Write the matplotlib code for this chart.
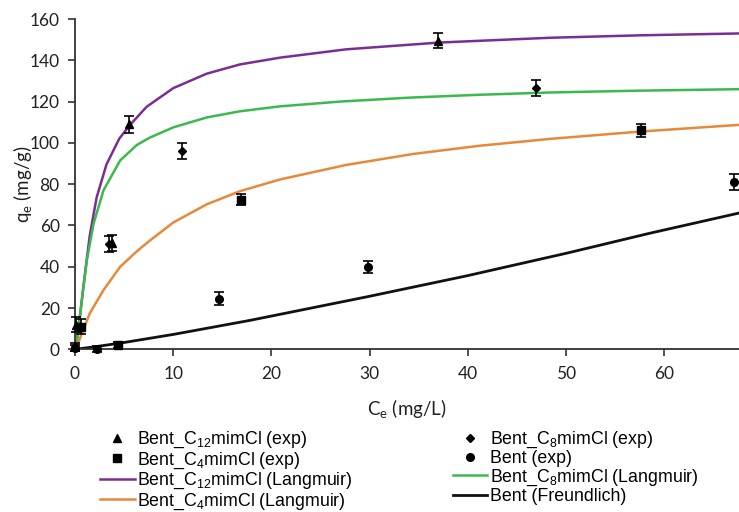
import matplotlib
matplotlib.use("Agg")
import matplotlib.pyplot as plt
from matplotlib.lines import Line2D

c12_x = [0.1, 3.8, 5.5, 37.0]
c12_y = [12.0, 51.5, 109.0, 149.5]
c12_err = [3.5, 4.0, 4.0, 3.7]

c8_x = [0.05, 3.5, 10.9, 46.9]
c8_y = [1.0, 51.0, 96.0, 126.5]
c8_err = [2.0, 4.0, 3.9, 3.9]

c4_x = [0.6, 4.4, 16.9, 57.6]
c4_y = [11.0, 2.0, 72.5, 106.0]
c4_err = [3.5, 1.5, 2.8, 3.2]

bent_x = [0.0, 2.2, 14.7, 29.8, 67.1]
bent_y = [0.5, 0.0, 24.5, 40.0, 81.0]
bent_err = [1.5, 1.5, 3.2, 3.0, 4.0]

# ---- model curves ----
c12L_x = [0.0, 0.25, 0.5, 1.0, 1.5, 2.2, 3.2, 4.5, 5.6, 7.3, 10.0, 13.4, 16.8, 20.9, 27.6, 37.1, 48.3, 57.6, 67.6]
c12L_y = [0.0, 6.0, 16.0, 36.0, 55.0, 73.5, 89.5, 102.0, 108.7, 117.5, 126.5, 133.5, 138.0, 141.3, 145.3, 148.6, 150.9, 152.1, 153.0]

c8L_x = [0.0, 0.3, 0.7, 1.2, 1.9, 2.9, 4.6, 6.3, 7.6, 10.0, 13.4, 16.8, 20.9, 27.0, 34.0, 41.2, 48.3, 57.6, 67.6]
c8L_y = [0.0, 7.0, 24.0, 43.0, 61.0, 77.0, 91.5, 99.0, 102.5, 107.5, 112.3, 115.3, 117.7, 120.0, 121.9, 123.3, 124.4, 125.3, 126.0]

c4L_x = [0.0, 0.2, 1.5, 2.9, 4.6, 6.3, 7.6, 10.0, 13.4, 16.8, 20.9, 27.6, 34.4, 41.2, 48.3, 57.6, 67.6]
c4L_y = [0.0, 1.5, 17.4, 28.7, 40.0, 47.5, 52.6, 61.4, 70.2, 76.6, 82.3, 89.3, 94.6, 98.6, 101.9, 105.5, 108.7]

bentF_x = [0.0, 2.0, 5.0, 10.0, 17.8, 29.8, 39.8, 50.0, 58.5, 67.6]
bentF_y = [0.0, 1.2, 3.3, 7.2, 14.0, 25.5, 35.5, 46.5, 56.2, 66.0]

x_ticks = [0, 10, 20, 30, 40, 50, 60]
y_ticks = [0, 20, 40, 60, 80, 100, 120, 140, 160]

purple = "#7a2e95"
green = "#3cb94c"
orange = "#e8883a"
black = "#111111"

plt.rcParams["mathtext.fontset"] = "custom"
plt.rcParams["mathtext.rm"] = "Liberation Sans"

fig = plt.figure(figsize=(7.39, 5.12), dpi=100)
ax = fig.add_axes([75 / 739, (512 - 349.3) / 512, 1 - 75 / 739, (349.3 - 19) / 512])

ax.plot(c12L_x, c12L_y, color=purple, lw=1.8, zorder=2)
ax.plot(c8L_x, c8L_y, color=green, lw=1.8, zorder=2)
ax.plot(c4L_x, c4L_y, color=orange, lw=1.8, zorder=2)
ax.plot(bentF_x, bentF_y, color=black, lw=2.0, zorder=2)

ekw = dict(ls="none", color="black", ecolor="black", elinewidth=1.2, capsize=3.5, capthick=1.2, zorder=3, clip_on=False)
for x, y, e, m, ms in [(c12_x, c12_y, c12_err, "^", 6), (c8_x, c8_y, c8_err, "D", 4.5),
                       (c4_x, c4_y, c4_err, "s", 5.5), (bent_x, bent_y, bent_err, "o", 5.5)]:
    _, caps, bars = ax.errorbar(x, y, yerr=e, marker=m, ms=ms, **ekw)
    for c in caps:
        c.set_clip_on(False)
    for b in bars:
        b.set_clip_on(False)

ax.set_xlim(0, 67.6)
ax.set_ylim(0, 160)
ax.set_xticks(x_ticks)
ax.set_yticks(y_ticks)
for s in ["top", "right"]:
    ax.spines[s].set_visible(False)
for s in ["left", "bottom"]:
    ax.spines[s].set_color("#333333")
    ax.spines[s].set_linewidth(1.3)
ax.tick_params(axis="both", direction="out", length=5, width=1.2, color="#333333",
               labelsize=12.5, labelcolor="#222222")
for lab in ax.get_xticklabels() + ax.get_yticklabels():
    lab.set_family("Lato")
ax.tick_params(axis="x", pad=7)
ax.tick_params(axis="y", pad=6)

ax.set_xlabel("C$_\\mathregular{e}$ (mg/L)", fontsize=13.5, family="Lato", color="#222222", labelpad=11)
ax.set_ylabel("q$_\\mathregular{e}$ (mg/g)", fontsize=13.5, family="Lato", color="#222222")
ax.yaxis.set_label_coords(-0.060, 0.5)

handles = [
    Line2D([], [], ls="none", marker="^", ms=6, color="black"),
    Line2D([], [], ls="none", marker="s", ms=5.5, color="black"),
    Line2D([], [], color=purple, lw=1.8),
    Line2D([], [], color=orange, lw=1.8),
    Line2D([], [], ls="none", marker="D", ms=4.5, color="black"),
    Line2D([], [], ls="none", marker="o", ms=5.5, color="black"),
    Line2D([], [], color=green, lw=1.8),
    Line2D([], [], color=black, lw=2.0),
]
labels = [
    "Bent_C$_\\mathregular{12}$mimCl (exp)",
    "Bent_C$_\\mathregular{4}$mimCl (exp)",
    "Bent_C$_\\mathregular{12}$mimCl (Langmuir)",
    "Bent_C$_\\mathregular{4}$mimCl (Langmuir)",
    "Bent_C$_\\mathregular{8}$mimCl (exp)",
    "Bent (exp)",
    "Bent_C$_\\mathregular{8}$mimCl (Langmuir)",
    "Bent (Freundlich)",
]
leg = fig.legend(handles, labels, ncol=2, loc="upper left",
                 bbox_to_anchor=(100 / 739, 1 - 430 / 512),
                 frameon=False, borderaxespad=0, borderpad=0,
                 prop={"family": "Liberation Sans", "size": 12.8},
                 handlelength=1.95, handletextpad=0.15, labelspacing=0.0,
                 columnspacing=5.6)

fig.savefig("out.png", dpi=100)
